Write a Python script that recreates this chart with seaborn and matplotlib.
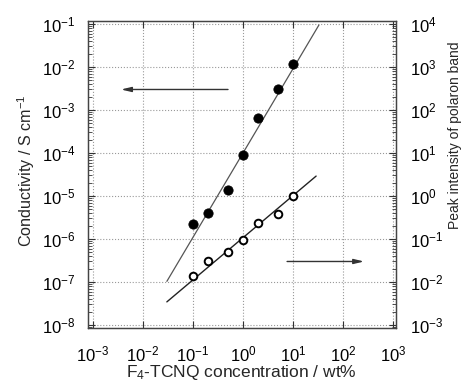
"""Conductivity and polaron band intensity vs F4-TCNQ concentration."""

import numpy as np
import pandas as pd
import matplotlib
matplotlib.use("Agg")
import matplotlib.pyplot as plt
import seaborn as sns

# dopant concentration (wt%)
conc = [0.1, 0.2, 0.5, 1.0, 2.0, 5.0, 10.0]
# conductivity (S/cm), left axis, filled circles
conductivity = [2.2e-6, 4.0e-6, 1.4e-5, 9.0e-5, 6.4e-4, 3.0e-3, 1.2e-2]
# peak intensity of polaron band, right axis, open circles
peak_intensity = [0.014, 0.030, 0.049, 0.095, 0.23, 0.39, 1.0]

# guide lines: log10(y) = slope * log10(x) + intercept
cond_fit = {"slope": 1.96, "intercept": -4.0, "x": [0.03, 33]}
peak_fit = {"slope": 0.98, "intercept": -0.97, "x": [0.03, 29]}

sns.set_theme(style="ticks")
plt.rcParams["font.family"] = ["Liberation Sans", "DejaVu Sans"]
plt.rcParams["mathtext.fontset"] = "custom"
plt.rcParams["mathtext.rm"] = "Liberation Sans"
plt.rcParams["mathtext.it"] = "Liberation Sans:italic"

fig, ax = plt.subplots(figsize=(4.66, 3.83), dpi=100)
fig.subplots_adjust(left=88 / 466, right=396 / 466,
                    bottom=1 - 328 / 383, top=1 - 21 / 383)
ax2 = ax.twinx()

df = pd.DataFrame({"conc": conc, "cond": conductivity, "peak": peak_intensity})

# fit lines
fx = np.array(cond_fit["x"])
ax.plot(fx, 10 ** (cond_fit["slope"] * np.log10(fx) + cond_fit["intercept"]),
        color="#555555", lw=0.9, zorder=2)
px = np.array(peak_fit["x"])
ax2.plot(px, 10 ** (peak_fit["slope"] * np.log10(px) + peak_fit["intercept"]),
         color="#222222", lw=1.0, zorder=2)

sns.scatterplot(data=df, x="conc", y="cond", ax=ax, color="black",
                edgecolor="black", s=45, zorder=3)
sns.scatterplot(data=df, x="conc", y="peak", ax=ax2, color="white",
                edgecolor="black", linewidth=1.4, s=30, zorder=3)

for a in (ax, ax2):
    a.set_xscale("log")
    a.set_yscale("log")
ax.set_xlim(10 ** -3.1, 10 ** 3.06)
ax.set_ylim(10 ** (-8 - 3 / 43), 10 ** (-1 + 3 / 43))
lo, hi = ax.get_ylim()
ax2.set_ylim(lo * 1e5, hi * 1e5)

ax.set_xticks([10.0 ** k for k in range(-3, 4)])
ax.set_yticks([10.0 ** k for k in range(-8, 0)])
ax2.set_yticks([10.0 ** k for k in range(-3, 5)])

ax.grid(True, which="major", color="#999999", linestyle=":", linewidth=0.8)
ax.set_axisbelow(True)

ax.tick_params(which="both", direction="in", top=True, right=False,
               labelsize=12, colors="#333333", labelcolor="black")
ax.tick_params(which="major", length=5, width=0.8)
ax.tick_params(which="minor", length=3, width=0.6)
ax.tick_params(axis="x", which="major", pad=12)
ax.tick_params(axis="y", which="major", pad=9)
ax2.tick_params(which="both", direction="in", labelsize=12,
                colors="#333333", labelcolor="black")
ax2.tick_params(which="major", length=5, width=0.8, pad=10)
ax2.tick_params(which="minor", length=3, width=0.6)

for a in (ax, ax2):
    for s in a.spines.values():
        s.set_color("#444444")
        s.set_linewidth(0.9)

ax.set_xlabel("F$_4$-TCNQ concentration / wt%", fontsize=12.5)
ax.set_ylabel("Conductivity / S cm$^{-1}$", fontsize=11.6)
ax2.set_ylabel("Peak intensity of polaron band", fontsize=10)
ax2.set_xlabel("")
ax.xaxis.label.set_verticalalignment("bottom")
ax.xaxis.set_label_coords(0.498, -0.176)
ax.yaxis.set_label_coords(-0.165, 0.511)
ax2.yaxis.set_label_coords(1.168, 0.629)

# arrows pointing to the respective axes
ax.annotate("", xy=(0.0032, 3e-3), xytext=(0.57, 3e-3),
            arrowprops=dict(arrowstyle="-|>,head_length=0.5,head_width=0.12",
                            color="#333333", lw=1.0))
ax2.annotate("", xy=(300, 0.03), xytext=(6.7, 0.03),
             arrowprops=dict(arrowstyle="-|>,head_length=0.5,head_width=0.12",
                             color="#333333", lw=1.0))

plt.savefig("out.png", dpi=100)
